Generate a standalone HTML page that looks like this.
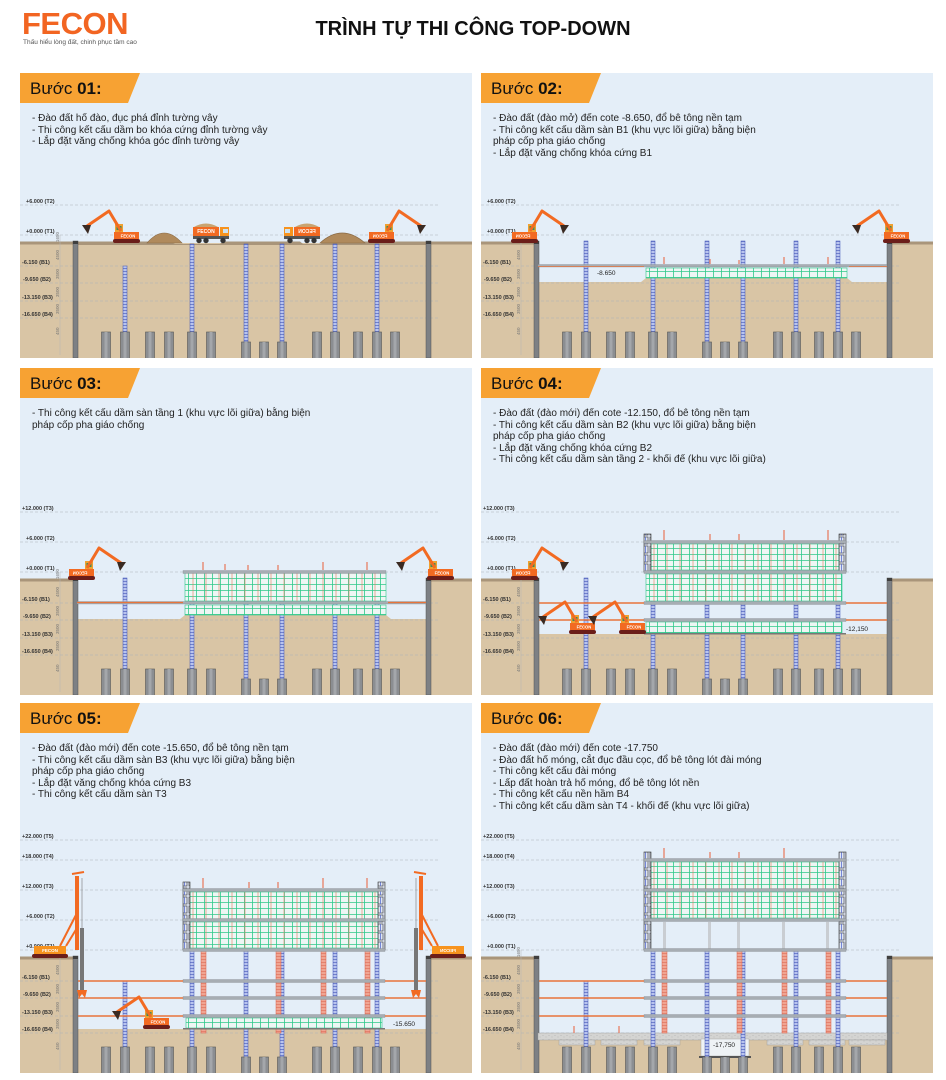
<!DOCTYPE html>
<html><head><meta charset="utf-8">
<style>
*{margin:0;padding:0;box-sizing:border-box}
body{width:946px;height:1080px;background:#fff;position:relative;overflow:hidden;font-family:"Liberation Sans","DejaVu Sans",sans-serif;color:#222}
.logo{position:absolute;left:22px;top:6px;color:#f26522;font-weight:bold;font-size:31px;letter-spacing:-0.5px}
.tag{position:absolute;left:23px;top:39px;font-size:6.5px;color:#555}
.title{position:absolute;left:0;width:946px;top:18px;text-align:center;font-weight:bold;font-size:20px;color:#111;padding-left:0}
.p{position:absolute;background:#e4eef8;overflow:hidden;width:452px}
.p svg{position:absolute;left:0;top:0}
.tab{position:absolute;left:0;top:0;width:120px;height:30px;background:#f7a233;clip-path:polygon(0 0,100% 0,90% 100%,0 100%)}
.tab span{position:absolute;left:10px;top:6px;font-size:17px;color:#111}
.tab b{font-weight:bold}
.tx{position:absolute;left:12px;top:40px;font-size:10px;line-height:11.5px;color:#222}
</style></head><body>
<div class="logo">FECON</div>
<div class="tag">Thấu hiểu lòng đất, chinh phục tầm cao</div>
<div class="title">TRÌNH TỰ THI CÔNG TOP-DOWN</div>

<svg width="0" height="0" style="position:absolute">
<defs>
<pattern id="sc" width="8" height="6" patternUnits="userSpaceOnUse"><rect width="8" height="6" fill="#eef6f4"/><path d="M0 0.4H8M0.4 0V6" stroke="#2ec98a" stroke-width="0.8"/></pattern>
<pattern id="rb" width="13" height="10" patternUnits="userSpaceOnUse"><path d="M4 0V10" stroke="#e8775a" stroke-width="0.6"/></pattern>
<pattern id="kp" width="4" height="3" patternUnits="userSpaceOnUse"><rect width="4" height="3" fill="#b9c4ef"/><path d="M0 0.5H4" stroke="#3f52b5" stroke-width="0.6"/></pattern>
<pattern id="rc" width="5" height="3" patternUnits="userSpaceOnUse"><rect width="5" height="3" fill="#f0a593"/><path d="M0 0.5H5" stroke="#d9604a" stroke-width="0.5"/></pattern>
<pattern id="sf" width="7" height="9" patternUnits="userSpaceOnUse"><rect width="7" height="9" fill="#dfe6f3"/><rect x="1" y="1" width="5" height="7" fill="none" stroke="#333" stroke-width="0.6"/><path d="M3.5 1V8" stroke="#5a6fd0" stroke-width="0.8"/></pattern>
<pattern id="cc" width="6" height="4" patternUnits="userSpaceOnUse"><rect width="6" height="4" fill="#d4d4d2"/><circle cx="2" cy="1.5" r="0.4" fill="#999"/><circle cx="5" cy="3" r="0.4" fill="#999"/></pattern>

<g id="pile"><rect x="-4.5" y="0" width="9" height="40" fill="#8b8e92" stroke="#555" stroke-width="0.6"/><rect x="-1.5" y="0" width="3" height="40" fill="#a4a7ab"/></g>

<g id="base">
 <rect x="0" y="8" width="53" height="115" fill="#d9c5a5"/>
 <rect x="411" y="8" width="41" height="115" fill="#d9c5a5"/>
 <rect x="0" y="6.5" width="53" height="3" fill="#a9957a"/>
 <rect x="411" y="6.5" width="41" height="3" fill="#a9957a"/>
 <g stroke="#a9b1b8" stroke-width="0.6" stroke-dasharray="3 2">
  <line x1="0" x2="420" y1="0" y2="0"/><line x1="0" x2="420" y1="31" y2="31"/><line x1="0" x2="420" y1="48" y2="48"/><line x1="0" x2="420" y1="66" y2="66"/><line x1="0" x2="420" y1="83" y2="83"/>
 </g>
 <g font-size="5.5" font-weight="bold" fill="#333">
  <text x="6" y="-2">+0.000 (T1)</text>
  <text x="2" y="29">-6.150 (B1)</text>
  <text x="3" y="46">-9.650 (B2)</text>
  <text x="2" y="64">-13.150 (B3)</text>
  <text x="2" y="81">-16.650 (B4)</text>
 </g>
 <line x1="40" x2="40" y1="0" y2="120" stroke="#b5b5b5" stroke-width="0.5"/>
 <g font-size="4.5" fill="#777">
  <text transform="translate(39,7) rotate(-90)">1650</text>
  <text transform="translate(39,25) rotate(-90)">4500</text>
  <text transform="translate(39,44) rotate(-90)">3500</text>
  <text transform="translate(39,62) rotate(-90)">3500</text>
  <text transform="translate(39,79) rotate(-90)">3500</text>
  <text transform="translate(39,100) rotate(-90)">450</text>
 </g>
 <rect x="53" y="6" width="5" height="117" fill="#7d8084" stroke="#555" stroke-width="0.5"/>
 <rect x="53" y="6" width="5" height="3" fill="#3f3f3f"/>
 <rect x="406" y="6" width="5" height="117" fill="#7d8084" stroke="#555" stroke-width="0.5"/>
 <rect x="406" y="6" width="5" height="3" fill="#3f3f3f"/>
</g>

<g id="piles">
 <use href="#pile" x="86" y="97"/><use href="#pile" x="105" y="97"/><use href="#pile" x="130" y="97"/><use href="#pile" x="149" y="97"/><use href="#pile" x="172" y="97"/><use href="#pile" x="191" y="97"/>
 <use href="#pile" x="226" y="107"/><use href="#pile" x="244" y="107"/><use href="#pile" x="262" y="107"/>
 <use href="#pile" x="297" y="97"/><use href="#pile" x="315" y="97"/><use href="#pile" x="338" y="97"/><use href="#pile" x="357" y="97"/><use href="#pile" x="375" y="97"/>
</g>

<g id="ex">
 <rect x="0" y="-4" width="27" height="4" rx="2" fill="#6b1e1a"/>
 <rect x="1" y="-11" width="25" height="7" fill="#f26a22"/>
 <text x="15" y="-5.6" font-size="4.2" fill="#fff" text-anchor="middle" font-weight="bold">FECON</text>
 <rect x="2" y="-19" width="8" height="8" fill="#f0a030"/>
 <rect x="3.5" y="-17" width="5" height="4" fill="#3b8a5a"/>
 <path d="M8 -12 L-4 -32 L-26 -17" stroke="#f26a22" stroke-width="3" fill="none" stroke-linejoin="round"/>
 <path d="M-31 -18 L-22 -18 L-25 -9 Z" fill="#3a2a22"/>
</g>
<g id="tr">
 <path d="M1 -16 Q13 -23 25 -16Z" fill="#c9a470"/>
 <rect x="0" y="-16" width="26" height="9" fill="#f26a22"/>
 <text x="13" y="-9.8" font-size="5" fill="#fff" text-anchor="middle" font-weight="bold">FECON</text>
 <rect x="27" y="-16" width="9" height="10" fill="#f7931e"/>
 <rect x="30" y="-14" width="5" height="4" fill="#cfe3f0"/>
 <rect x="0" y="-7" width="36" height="3" fill="#555"/>
 <circle cx="6" cy="-2.5" r="2.7" fill="#333"/><circle cx="13" cy="-2.5" r="2.7" fill="#333"/><circle cx="30" cy="-2.5" r="2.7" fill="#333"/>
</g>
<g id="rig">
 <rect x="-44" y="-4" width="36" height="4" rx="2" fill="#6b1e1a"/>
 <rect x="-42" y="-12" width="32" height="8" fill="#f7931e"/>
 <text x="-26" y="-6" font-size="4.5" fill="#fff" text-anchor="middle" font-weight="bold">FECON</text>
 <rect x="-1" y="-82" width="4" height="74" fill="#f26a22"/>
 <path d="M-16 -12 L1 -45 M-10 -12 L1 -30" stroke="#f26a22" stroke-width="2"/>
 <path d="M-4 -84 L8 -86" stroke="#f26a22" stroke-width="2"/>
 <line x1="6" y1="-80" x2="6" y2="-30" stroke="#777" stroke-width="0.6"/>
 <rect x="4" y="-30" width="4" height="62" fill="#777"/>
 <path d="M1 32 L11 32 L9 40 L6 36 L3 40 Z" fill="#f26a22"/>
</g>
<g id="kps">
 <rect x="103" y="6" width="4" height="91" fill="url(#kp)" stroke="#3f52b5" stroke-width="0.5"/>
 <rect x="170" y="6" width="4" height="91" fill="url(#kp)" stroke="#3f52b5" stroke-width="0.5"/>
 <rect x="224" y="6" width="4" height="101" fill="url(#kp)" stroke="#3f52b5" stroke-width="0.5"/>
 <rect x="260" y="6" width="4" height="101" fill="url(#kp)" stroke="#3f52b5" stroke-width="0.5"/>
 <rect x="313" y="6" width="4" height="91" fill="url(#kp)" stroke="#3f52b5" stroke-width="0.5"/>
 <rect x="355" y="6" width="4" height="91" fill="url(#kp)" stroke="#3f52b5" stroke-width="0.5"/>
</g>
<g id="redc">
 <rect x="181" y="0" width="5" height="83" fill="url(#rc)" stroke="#d9604a" stroke-width="0.5"/>
 <rect x="256" y="0" width="5" height="83" fill="url(#rc)" stroke="#d9604a" stroke-width="0.5"/>
 <rect x="301" y="0" width="5" height="83" fill="url(#rc)" stroke="#d9604a" stroke-width="0.5"/>
 <rect x="345" y="0" width="5" height="83" fill="url(#rc)" stroke="#d9604a" stroke-width="0.5"/>
</g>
<g id="stubs" stroke="#e8775a" stroke-width="1.2">
 <path d="M183 -2V-10M205 -2V-8M228 -2V-7M258 -2V-7M303 -2V-10M347 -2V-10"/>
</g>
</defs>
</svg>

<!-- PANEL 1 -->
<div class="p" style="left:20px;top:73px;height:285px">
<svg width="452" height="285" viewBox="0 0 452 285">
<g transform="translate(0,162)">
 <line x1="0" x2="420" y1="-30" y2="-30" stroke="#a9b1b8" stroke-width="0.6" stroke-dasharray="3 2"/>
 <text x="6" y="-32" font-size="5.5" font-weight="bold" fill="#333">+6.000 (T2)</text>
 <rect x="57" y="8" width="349" height="115" fill="#d9c5a5"/>
 <path d="M57 6.5H150L155 9H200L203 6.5H280L283 9H300L305 6.5H406V10H57Z" fill="#a9957a"/>
 <use href="#base"/>
 <rect x="103" y="31" width="4" height="66" fill="url(#kp)" stroke="#3f52b5" stroke-width="0.5"/>
 <rect x="170" y="9" width="4" height="88" fill="url(#kp)" stroke="#3f52b5" stroke-width="0.5"/>
 <rect x="224" y="9" width="4" height="98" fill="url(#kp)" stroke="#3f52b5" stroke-width="0.5"/>
 <rect x="260" y="9" width="4" height="98" fill="url(#kp)" stroke="#3f52b5" stroke-width="0.5"/>
 <rect x="313" y="9" width="4" height="88" fill="url(#kp)" stroke="#3f52b5" stroke-width="0.5"/>
 <rect x="355" y="9" width="4" height="88" fill="url(#kp)" stroke="#3f52b5" stroke-width="0.5"/>
 <use href="#piles"/>
 <use href="#ex" transform="translate(93,8)"/>
 <path d="M127 8 Q144 -12 162 8Z" fill="#b08a5c" stroke="#8a6a45" stroke-width="0.6"/>
 <use href="#tr" transform="translate(173,8)"/>
 <use href="#tr" transform="translate(300,8) scale(-1,1)"/>
 <path d="M300 8 Q322 -12 345 8Z" fill="#b08a5c" stroke="#8a6a45" stroke-width="0.6"/>
 <use href="#ex" transform="translate(375,8) scale(-1,1)"/>
</g></svg>
<div class="tab"><span>Bước <b>01:</b></span></div>
<div class="tx">- Đào đất hố đào, đục phá đỉnh tường vây<br>- Thi công kết cấu dầm bo khóa cứng đỉnh tường vây<br>- Lắp đặt văng chống khóa góc đỉnh tường vây</div>
</div>

<!-- PANEL 2 -->
<div class="p" style="left:481px;top:73px;height:285px">
<svg width="452" height="285" viewBox="0 0 452 285">
<g transform="translate(0,162)">
 <line x1="0" x2="420" y1="-30" y2="-30" stroke="#a9b1b8" stroke-width="0.6" stroke-dasharray="3 2"/>
 <text x="6" y="-32" font-size="5.5" font-weight="bold" fill="#333">+6.000 (T2)</text>
 <rect x="57" y="47" width="349" height="76" fill="#d9c5a5"/>
 <path d="M160 47 L165 43 H366 L371 47Z" fill="#d9c5a5"/>
 <use href="#base"/>
 <use href="#kps"/>
 <use href="#piles"/>
 <rect x="165" y="33" width="201" height="10" fill="url(#sc)" stroke="#2ec98a" stroke-width="0.6"/>
 <rect x="57" y="29.5" width="349" height="2.5" fill="#a7adb3" stroke="#7d8389" stroke-width="0.3"/>
 <line x1="57" x2="163" y1="31.5" y2="31.5" stroke="#e8743b" stroke-width="0.8"/>
 <line x1="368" x2="406" y1="31.5" y2="31.5" stroke="#e8743b" stroke-width="0.8"/>
 <g stroke="#e8775a" stroke-width="1.2"><path d="M183 29V22M229 29V24M258 29V25M303 29V22M347 29V22"/></g>
 <text x="116" y="40" font-size="6.5" fill="#222">-8.650</text>
 <use href="#ex" transform="translate(57,8) scale(-1,1)"/>
 <use href="#ex" transform="translate(402,8)"/>
</g></svg>
<div class="tab"><span>Bước <b>02:</b></span></div>
<div class="tx">- Đào đất (đào mở) đến cote -8.650, đổ bê tông nền tạm<br>- Thi công kết cấu dầm sàn B1 (khu vực lõi giữa) bằng biện<br>pháp cốp pha giáo chống<br>- Lắp đặt văng chống khóa cứng B1</div>
</div>

<!-- PANEL 3 -->
<div class="p" style="left:20px;top:368px;height:327px">
<svg width="452" height="327" viewBox="0 0 452 327">
<g transform="translate(0,204)">
 <g stroke="#a9b1b8" stroke-width="0.6" stroke-dasharray="3 2"><line x1="0" x2="420" y1="-30" y2="-30"/><line x1="0" x2="420" y1="-60" y2="-60"/></g>
 <text x="6" y="-32" font-size="5.5" font-weight="bold" fill="#333">+6.000 (T2)</text>
 <text x="2" y="-62" font-size="5.5" font-weight="bold" fill="#333">+12.000 (T3)</text>
 <rect x="57" y="47" width="349" height="76" fill="#d9c5a5"/>
 <path d="M160 47 L165 43 H366 L371 47Z" fill="#d9c5a5"/>
 <use href="#base"/>
 <use href="#kps"/>
 <use href="#piles"/>
 <rect x="165" y="1" width="201" height="28" fill="url(#sc)" stroke="#2ec98a" stroke-width="0.6"/>
 <rect x="165" y="1" width="201" height="28" fill="url(#rb)"/>
 <rect x="165" y="33" width="201" height="10" fill="url(#sc)" stroke="#2ec98a" stroke-width="0.6"/>
 <rect x="163" y="-1.5" width="203" height="3" fill="#a7adb3" stroke="#7d8389" stroke-width="0.3"/>
 <rect x="57" y="29.5" width="349" height="2.5" fill="#a7adb3" stroke="#7d8389" stroke-width="0.3"/>
 <line x1="57" x2="163" y1="30.5" y2="30.5" stroke="#e8743b" stroke-width="1.2"/>
 <line x1="368" x2="406" y1="30.5" y2="30.5" stroke="#e8743b" stroke-width="1.2"/>
 <use href="#stubs"/>
 <use href="#ex" transform="translate(75,8) scale(-1,1)"/>
 <use href="#ex" transform="translate(407,8)"/>
</g></svg>
<div class="tab"><span>Bước <b>03:</b></span></div>
<div class="tx">- Thi công kết cấu dầm sàn tầng 1 (khu vực lõi giữa) bằng biện<br>pháp cốp pha giáo chống</div>
</div>

<!-- PANEL 4 -->
<div class="p" style="left:481px;top:368px;height:327px">
<svg width="452" height="327" viewBox="0 0 452 327">
<g transform="translate(0,204)">
 <g stroke="#a9b1b8" stroke-width="0.6" stroke-dasharray="3 2"><line x1="0" x2="420" y1="-30" y2="-30"/><line x1="0" x2="420" y1="-60" y2="-60"/></g>
 <text x="6" y="-32" font-size="5.5" font-weight="bold" fill="#333">+6.000 (T2)</text>
 <text x="2" y="-62" font-size="5.5" font-weight="bold" fill="#333">+12.000 (T3)</text>
 <rect x="57" y="62" width="349" height="61" fill="#d9c5a5"/>
 <use href="#base"/>
 <use href="#kps"/>
 <use href="#piles"/>
 <rect x="170" y="-28" width="188" height="26" fill="url(#sc)" stroke="#2ec98a" stroke-width="0.6"/>
 <rect x="170" y="-28" width="188" height="26" fill="url(#rb)"/>
 <rect x="165" y="2" width="196" height="27" fill="url(#sc)" stroke="#2ec98a" stroke-width="0.6"/>
 <rect x="165" y="2" width="196" height="27" fill="url(#rb)"/>
 <rect x="165" y="50" width="196" height="11" fill="url(#sc)" stroke="#2ec98a" stroke-width="0.6"/>
 <rect x="163" y="-38" width="7" height="38" fill="url(#sf)" stroke="#333" stroke-width="0.6"/>
 <rect x="358" y="-38" width="7" height="38" fill="url(#sf)" stroke="#333" stroke-width="0.6"/>
 <rect x="163" y="-31.5" width="202" height="3" fill="#a7adb3" stroke="#7d8389" stroke-width="0.3"/>
 <rect x="163" y="-1.5" width="202" height="3" fill="#a7adb3" stroke="#7d8389" stroke-width="0.3"/>
 <rect x="163" y="29.5" width="202" height="3" fill="#a7adb3" stroke="#7d8389" stroke-width="0.3"/>
 <rect x="163" y="46.5" width="202" height="3" fill="#a7adb3" stroke="#7d8389" stroke-width="0.3"/>
 <rect x="163" y="61" width="202" height="1.5" fill="#777"/>
 <g stroke="#e8743b" stroke-width="1.4"><line x1="58" x2="163" y1="31" y2="31"/><line x1="365" x2="406" y1="31" y2="31"/><line x1="58" x2="163" y1="48" y2="48"/><line x1="365" x2="406" y1="48" y2="48"/></g>
 <g stroke="#e8775a" stroke-width="1.2"><path d="M183 -32V-42M229 -32V-38M258 -32V-38M303 -32V-42M347 -32V-42"/></g>
 <text x="365" y="59" font-size="6.5" fill="#222">-12,150</text>
 <use href="#ex" transform="translate(88,62)"/>
 <use href="#ex" transform="translate(138,62)"/>
 <use href="#ex" transform="translate(57,8) scale(-1,1)"/>
</g></svg>
<div class="tab"><span>Bước <b>04:</b></span></div>
<div class="tx">- Đào đất (đào mới) đến cote -12.150, đổ bê tông nền tạm<br>- Thi công kết cấu dầm sàn B2 (khu vực lõi giữa) bằng biện<br>pháp cốp pha giáo chống<br>- Lắp đặt văng chống khóa cứng B2<br>- Thi công kết cấu dầm sàn tầng 2 - khối đế (khu vực lõi giữa)</div>
</div>

<!-- PANEL 5 -->
<div class="p" style="left:20px;top:703px;height:370px">
<svg width="452" height="370" viewBox="0 0 452 370">
<g transform="translate(0,247)">
 <g stroke="#a9b1b8" stroke-width="0.6" stroke-dasharray="3 2"><line x1="0" x2="420" y1="-30" y2="-30"/><line x1="0" x2="420" y1="-60" y2="-60"/><line x1="0" x2="420" y1="-90" y2="-90"/><line x1="0" x2="420" y1="-110" y2="-110"/></g>
 <g font-size="5.5" font-weight="bold" fill="#333">
 <text x="6" y="-32">+6.000 (T2)</text><text x="2" y="-62">+12.000 (T3)</text><text x="2" y="-92">+18.000 (T4)</text><text x="2" y="-112">+22.000 (T5)</text></g>
 <rect x="57" y="79" width="349" height="44" fill="#d9c5a5"/>
 <use href="#base"/>
 <rect x="103" y="31" width="4" height="66" fill="url(#kp)" stroke="#3f52b5" stroke-width="0.5"/>
 <rect x="170" y="0" width="4" height="97" fill="url(#kp)" stroke="#3f52b5" stroke-width="0.5"/>
 <rect x="224" y="0" width="4" height="107" fill="url(#kp)" stroke="#3f52b5" stroke-width="0.5"/>
 <rect x="260" y="0" width="4" height="107" fill="url(#kp)" stroke="#3f52b5" stroke-width="0.5"/>
 <rect x="313" y="0" width="4" height="97" fill="url(#kp)" stroke="#3f52b5" stroke-width="0.5"/>
 <rect x="355" y="0" width="4" height="97" fill="url(#kp)" stroke="#3f52b5" stroke-width="0.5"/>
 <use href="#redc"/>
 <use href="#piles"/>
 <rect x="170" y="-58" width="188" height="27" fill="url(#sc)" stroke="#2ec98a" stroke-width="0.6"/>
 <rect x="170" y="-58" width="188" height="27" fill="url(#rb)"/>
 <rect x="170" y="-28" width="188" height="26" fill="url(#sc)" stroke="#2ec98a" stroke-width="0.6"/>
 <rect x="170" y="-28" width="188" height="26" fill="url(#rb)"/>
 <rect x="166" y="68" width="196" height="10" fill="url(#sc)" stroke="#2ec98a" stroke-width="0.6"/>
 <rect x="163" y="-68" width="7" height="68" fill="url(#sf)" stroke="#333" stroke-width="0.6"/>
 <rect x="358" y="-68" width="7" height="68" fill="url(#sf)" stroke="#333" stroke-width="0.6"/>
 <rect x="163" y="-61.5" width="202" height="3" fill="#a7adb3" stroke="#7d8389" stroke-width="0.3"/>
 <rect x="163" y="-31.5" width="202" height="3" fill="#a7adb3" stroke="#7d8389" stroke-width="0.3"/>
 <rect x="163" y="-1.5" width="202" height="3" fill="#a7adb3" stroke="#7d8389" stroke-width="0.3"/>
 <rect x="163" y="29.5" width="202" height="3" fill="#a7adb3" stroke="#7d8389" stroke-width="0.3"/>
 <rect x="163" y="46.5" width="202" height="3" fill="#a7adb3" stroke="#7d8389" stroke-width="0.3"/>
 <rect x="163" y="64.5" width="202" height="3" fill="#a7adb3" stroke="#7d8389" stroke-width="0.3"/>
 <rect x="163" y="78" width="202" height="1.5" fill="#777"/>
 <g stroke="#e8743b" stroke-width="1.4"><line x1="58" x2="163" y1="31" y2="31"/><line x1="365" x2="406" y1="31" y2="31"/><line x1="58" x2="163" y1="48" y2="48"/><line x1="365" x2="406" y1="48" y2="48"/><line x1="58" x2="163" y1="66" y2="66"/><line x1="365" x2="406" y1="66" y2="66"/></g>
 <g stroke="#e8775a" stroke-width="1.2"><path d="M183 -62V-72M229 -62V-68M258 -62V-68M303 -62V-72M347 -62V-72"/></g>
 <text x="373" y="76" font-size="6.5" fill="#222">-15.650</text>
 <use href="#ex" transform="translate(123,79)"/>
 <use href="#rig" transform="translate(56,8)"/>
 <use href="#rig" transform="translate(402,8) scale(-1,1)"/>
</g></svg>
<div class="tab"><span>Bước <b>05:</b></span></div>
<div class="tx">- Đào đất (đào mới) đến cote -15.650, đổ bê tông nền tạm<br>- Thi công kết cấu dầm sàn B3 (khu vực lõi giữa) bằng biện<br>pháp cốp pha giáo chống<br>- Lắp đặt văng chống khóa cứng B3<br>- Thi công kết cấu dầm sàn T3</div>
</div>

<!-- PANEL 6 -->
<div class="p" style="left:481px;top:703px;height:370px">
<svg width="452" height="370" viewBox="0 0 452 370">
<g transform="translate(0,247)">
 <g stroke="#a9b1b8" stroke-width="0.6" stroke-dasharray="3 2"><line x1="0" x2="420" y1="-30" y2="-30"/><line x1="0" x2="420" y1="-60" y2="-60"/><line x1="0" x2="420" y1="-90" y2="-90"/><line x1="0" x2="420" y1="-110" y2="-110"/></g>
 <g font-size="5.5" font-weight="bold" fill="#333">
 <text x="6" y="-32">+6.000 (T2)</text><text x="2" y="-62">+12.000 (T3)</text><text x="2" y="-92">+18.000 (T4)</text><text x="2" y="-112">+22.000 (T5)</text></g>
 <rect x="57" y="84" width="349" height="39" fill="#d9c5a5"/>
 <use href="#base"/>
 <rect x="57" y="83" width="349" height="7" fill="url(#cc)" stroke="#999" stroke-width="0.4"/>
 <g fill="url(#cc)" stroke="#999" stroke-width="0.4">
  <rect x="78" y="90" width="36" height="5"/><rect x="120" y="90" width="36" height="5"/><rect x="163" y="90" width="36" height="5"/>
  <rect x="286" y="90" width="36" height="5"/><rect x="328" y="90" width="36" height="5"/><rect x="368" y="90" width="36" height="5"/>
 </g>
 <rect x="220" y="89" width="48" height="17" fill="#eef2f5" stroke="#999" stroke-width="0.4"/>
 <rect x="218" y="106" width="52" height="2" fill="#555"/>
 <rect x="103" y="31" width="4" height="66" fill="url(#kp)" stroke="#3f52b5" stroke-width="0.5"/>
 <rect x="170" y="0" width="4" height="97" fill="url(#kp)" stroke="#3f52b5" stroke-width="0.5"/>
 <rect x="224" y="0" width="4" height="107" fill="url(#kp)" stroke="#3f52b5" stroke-width="0.5"/>
 <rect x="260" y="0" width="4" height="107" fill="url(#kp)" stroke="#3f52b5" stroke-width="0.5"/>
 <rect x="313" y="0" width="4" height="97" fill="url(#kp)" stroke="#3f52b5" stroke-width="0.5"/>
 <rect x="355" y="0" width="4" height="97" fill="url(#kp)" stroke="#3f52b5" stroke-width="0.5"/>
 <use href="#redc"/>
 <use href="#piles"/>
 <g stroke="#e8775a" stroke-width="1.2"><path d="M93 83V76M138 83V76"/></g>
 <rect x="170" y="-88" width="188" height="27" fill="url(#sc)" stroke="#2ec98a" stroke-width="0.6"/>
 <rect x="170" y="-88" width="188" height="27" fill="url(#rb)"/>
 <rect x="170" y="-58" width="188" height="26" fill="url(#sc)" stroke="#2ec98a" stroke-width="0.6"/>
 <rect x="170" y="-58" width="188" height="26" fill="url(#rb)"/>
 <g fill="#c9cdd2"><rect x="182" y="-28" width="3" height="27"/><rect x="227" y="-28" width="3" height="27"/><rect x="256" y="-28" width="3" height="27"/><rect x="301" y="-28" width="3" height="27"/><rect x="345" y="-28" width="3" height="27"/></g>
 <rect x="163" y="-98" width="7" height="98" fill="url(#sf)" stroke="#333" stroke-width="0.6"/>
 <rect x="358" y="-98" width="7" height="98" fill="url(#sf)" stroke="#333" stroke-width="0.6"/>
 <rect x="163" y="-91.5" width="202" height="3" fill="#a7adb3" stroke="#7d8389" stroke-width="0.3"/>
 <rect x="163" y="-61.5" width="202" height="3" fill="#a7adb3" stroke="#7d8389" stroke-width="0.3"/>
 <rect x="163" y="-31.5" width="202" height="3" fill="#a7adb3" stroke="#7d8389" stroke-width="0.3"/>
 <rect x="163" y="-1.5" width="202" height="3" fill="#a7adb3" stroke="#7d8389" stroke-width="0.3"/>
 <rect x="163" y="29.5" width="202" height="3" fill="#a7adb3" stroke="#7d8389" stroke-width="0.3"/>
 <rect x="163" y="46.5" width="202" height="3" fill="#a7adb3" stroke="#7d8389" stroke-width="0.3"/>
 <rect x="163" y="64.5" width="202" height="3" fill="#a7adb3" stroke="#7d8389" stroke-width="0.3"/>
 <g stroke="#e8743b" stroke-width="1.4"><line x1="58" x2="163" y1="31" y2="31"/><line x1="365" x2="406" y1="31" y2="31"/><line x1="58" x2="163" y1="48" y2="48"/><line x1="365" x2="406" y1="48" y2="48"/><line x1="58" x2="163" y1="66" y2="66"/><line x1="365" x2="406" y1="66" y2="66"/></g>
 <g stroke="#e8775a" stroke-width="1.2"><path d="M183 -92V-102M229 -92V-98M258 -92V-98M303 -92V-102"/></g>
 <text x="232" y="97" font-size="6.5" fill="#222">-17,750</text>
</g></svg>
<div class="tab"><span>Bước <b>06:</b></span></div>
<div class="tx">- Đào đất (đào mới) đến cote -17.750<br>- Đào đất hố móng, cắt đục đầu cọc, đổ bê tông lót đài móng<br>- Thi công kết cấu đài móng<br>- Lấp đất hoàn trả hố móng, đổ bê tông lót nền<br>- Thi công kết cấu nền hầm B4<br>- Thi công kết cấu dầm sàn T4 - khối đế (khu vực lõi giữa)</div>
</div>
</body></html>
